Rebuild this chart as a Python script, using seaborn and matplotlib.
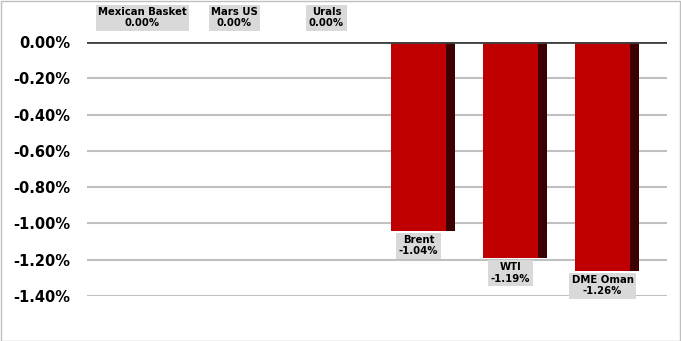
import matplotlib
matplotlib.use("Agg")
import matplotlib.pyplot as plt
import seaborn as sns
import pandas as pd
import numpy as np
from matplotlib.patches import Rectangle

categories = ["Mexican Basket", "Mars US", "Urals", "Brent", "WTI", "DME Oman"]
values = [0.00, 0.00, 0.00, -1.04, -1.19, -1.26]
yticks = [0.0, -0.2, -0.4, -0.6, -0.8, -1.0, -1.2, -1.4]

df = pd.DataFrame({"grade": categories, "change": values})

sns.set_style("white")
plt.rcParams['font.family'] = ['DejaVu Sans']

fig = plt.figure(figsize=(6.81, 3.41), dpi=100)
ax = fig.add_axes([87/681, 45/341, 580/681, 254/341])

# gridlines
for t in yticks:
    if t == 0:
        continue
    ax.axhline(t, color="#c0c0c0", lw=1.5, zorder=0)

# 3D side shadow
x = np.arange(len(categories))
ax.bar(x + 0.1, values, width=0.6, color="#3d0000", zorder=1, linewidth=0)

sns.barplot(data=df, x="grade", y="change", color="#c00000", width=0.6,
            saturation=1, ax=ax, zorder=2, linewidth=0)

ax.axhline(0, color="#404040", lw=2, zorder=3)

ax.set_xlim(-0.603, 5.701)
ax.set_ylim(-1.4, 0)
ax.set_yticks(yticks)
ax.set_yticklabels([f"{t:.2f}%" for t in yticks], fontsize=10.5, fontweight="bold", color="black")
ax.tick_params(axis="y", length=0, pad=12)
ax.set_xticks([])
ax.set_xlabel("")
ax.set_ylabel("")
for s in ax.spines.values():
    s.set_visible(False)

for i, (c, v) in enumerate(zip(categories, values)):
    txt = f"{c}\n{v:.2f}%"
    kw = dict(ha="center", fontsize=7.3, fontweight="bold", color="black",
              linespacing=1.15, clip_on=False,
              bbox=dict(boxstyle="square,pad=0.25", fc="#d9d9d9", ec="none"))
    if v == 0:
        ax.text(i, 0.075, txt, va="bottom", **kw)
    else:
        ax.text(i, v - 0.025, txt, va="top", **kw)

fig.patches.append(Rectangle((0.5/681, 0.5/341), 679.5/681, 339.5/341, transform=fig.transFigure,
                             fill=False, ec="#bfbfbf", lw=1))

fig.savefig("out.png", dpi=100)
